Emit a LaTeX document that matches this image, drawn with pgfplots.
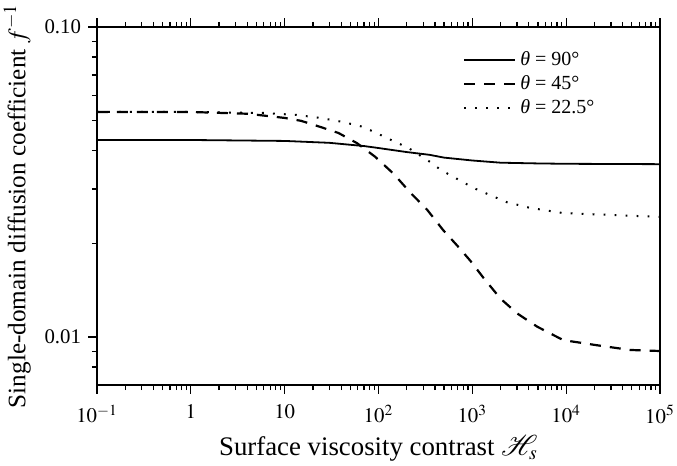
\documentclass[border=0pt]{standalone}
\usepackage{mathptmx}
\usepackage{mathrsfs}
\usepackage{fontspec}
\setmainfont{Liberation Serif}
\usepackage{pgfplots}
\usepackage{pgfplotstable}
\pgfplotsset{compat=1.18}

\pgfplotstableread{
x y
0.1 0.0432
1 0.0432
10 0.0429
30 0.0423
70 0.0413
100 0.0407
200 0.0395
350 0.0387
500 0.0379
1000 0.0371
2000 0.0365
5000 0.0363
10000 0.0362
100000 0.0361
}\solid

\pgfplotstableread{
x y
0.1 0.0532
1 0.0532
4 0.0525
10 0.0509
15 0.0498
24 0.0476
37.5 0.0455
59 0.0422
92.5 0.0381
145 0.0336
219 0.0292
331 0.0257
490 0.0221
692 0.0197
955 0.0176
1318 0.0155
1995 0.0133
3020 0.0119
4900 0.0108
9300 0.00977
21000 0.00941
48000 0.00908
100000 0.00901
}\dashedtab

\pgfplotstableread{
x y
0.1 0.0532
1 0.0532
6 0.0528
13.7 0.0520
24 0.0509
41.5 0.0494
69 0.0476
118 0.0441
209 0.0407
355 0.0367
460 0.0346
794 0.0316
1016 0.0303
1820 0.0281
2340 0.0272
4100 0.0261
9300 0.0251
100000 0.0244
}\dottedtab

\begin{document}
\begin{tikzpicture}
\useasboundingbox (-48.5pt,-40.5pt) rectangle (290pt,192.5pt);
\begin{axis}[
  at={(0,0)}, anchor=south west,
  scale only axis, width=281.5pt, height=179pt,
  xmode=log, ymode=log,
  xmin=0.1, xmax=1e5, ymin=0.007, ymax=0.1,
  axis line style={line width=0.9pt},
  tick style={line width=0.6pt, black},
  tick align=outside,
  xtick pos=both, xticklabel pos=lower,
  ytick pos=left,
  major tick length=4.5pt, minor tick length=2.6pt,
  xtick={0.1,1,10,100,1000,10000,100000},
  xticklabels={$10^{-1}$,$1$,$10$,$10^2$,$10^3$,$10^4$,$10^5$},
  minor xtick={0.2,0.3,0.4,0.5,0.6,0.7,0.8,0.9,2,3,4,5,6,7,8,9,20,30,40,50,60,70,80,90,200,300,400,500,600,700,800,900,2000,3000,4000,5000,6000,7000,8000,9000,20000,30000,40000,50000,60000,70000,80000,90000},
  ytick={0.01,0.1},
  yticklabels={0.01,0.10},
  minor ytick={0.008,0.009,0.02,0.03,0.04,0.05,0.06,0.07,0.08,0.09},
  tick label style={font=\fontsize{10.4}{12}\selectfont},
  xticklabel style={yshift=-2pt},
  xlabel style={font=\fontsize{13.4}{16}\selectfont, yshift=1pt},
  ylabel style={font=\fontsize{12.6}{15}\selectfont},
  xlabel={Surface viscosity contrast $\mathscr{H}_s$},
  ylabel={Single-domain diffusion coefficient $f^{-1}$},
  legend style={draw=none, fill=none, at={(0.639,0.955)}, anchor=north west,
    font=\fontsize{10}{12}\selectfont, row sep=-0.5pt},
  legend cell align=left,
  legend image code/.code={\draw[#1] (0pt,0pt) -- (25.5pt,0pt);},
]
\addplot[black, line width=0.9pt] table[x=x,y=y] {\solid};
\addlegendentry{\textit{θ} = 90°}
\addplot[black, line width=1.1pt, dash pattern=on 5.5pt off 4.5pt] table[x=x,y=y] {\dashedtab};
\addlegendentry{\textit{θ} = 45°}
\addplot[black, line width=1pt, dash pattern=on 0.9pt off 4.6pt] table[x=x,y=y] {\dottedtab};
\addlegendentry{\textit{θ} = 22.5°}
\end{axis}
\end{tikzpicture}
\end{document}
